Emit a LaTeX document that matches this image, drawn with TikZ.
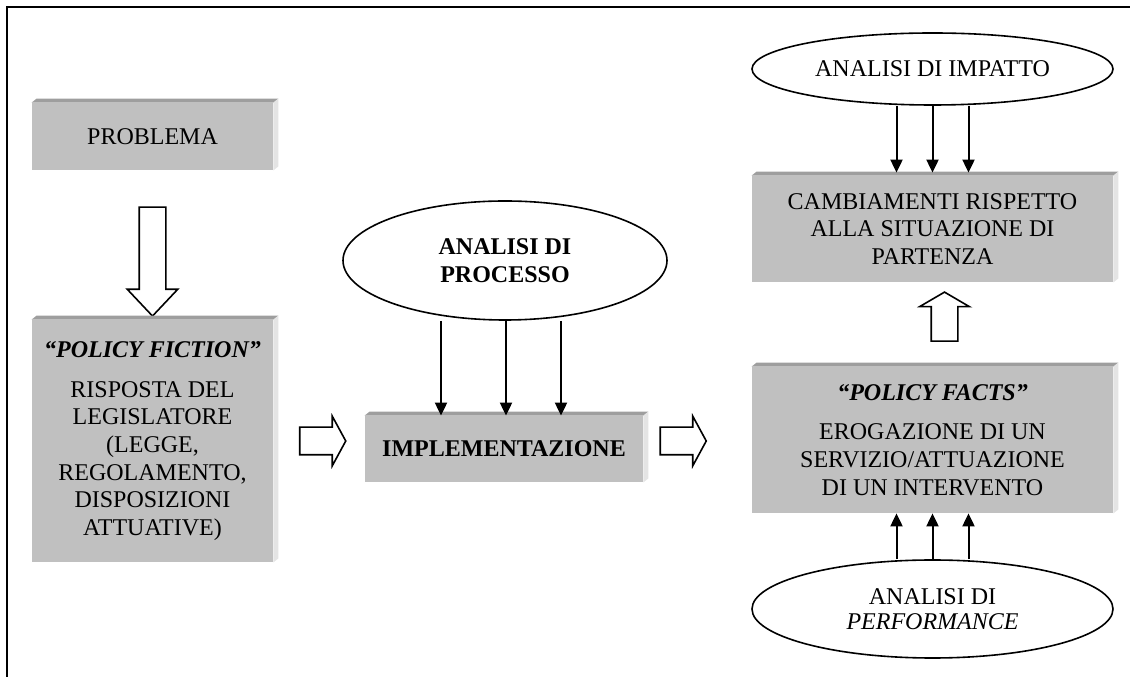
\documentclass[tikz,border=0pt]{standalone}
\usepackage{fontspec}
\setmainfont{Liberation Serif}
\usetikzlibrary{shapes.geometric,shapes.arrows,arrows.meta}
\definecolor{boxgray}{RGB}{192,192,192}
\definecolor{bevtop}{RGB}{158,158,158}
\definecolor{bevside}{RGB}{228,228,228}
\begin{document}
\begin{tikzpicture}[>={Triangle[length=6.5bp,width=6bp]},line join=miter,
  font=\fontsize{12bp}{13.8bp}\selectfont,
  bevelbox/.style={fill=boxgray,inner sep=0pt,align=center},
  oval/.style={draw=black,ellipse,line width=0.8bp,inner sep=0pt,align=center},
  blockarrow/.style={draw=black,fill=white,single arrow,line width=0.8bp,inner xsep=0pt,single arrow head indent=0pt},
  feed/.style={->,line width=1bp},
]
\useasboundingbox (0bp,0bp) rectangle (565bp,338.5bp);
\draw [line width=1bp] (3.5bp,0bp) -- (3.5bp,335bp) -- (565bp,335bp);
%%
\node (problema) at (76.25bp,270.25bp) [bevelbox,minimum width=120.5bp,minimum height=33.5bp] {PROBLEMA};
  \node (fiction) at (76.25bp,118bp) [bevelbox,minimum width=120.5bp,minimum height=121bp] {\textbf{\textit{“POLICY FICTION”}}\\[6bp]RISPOSTA DEL\\LEGISLATORE\\(LEGGE,\\REGOLAMENTO,\\DISPOSIZIONI\\ATTUATIVE)};
  \node (impl) at (252bp,114bp) [bevelbox,minimum width=139bp,minimum height=33bp] {\textbf{IMPLEMENTAZIONE}};
  \node (proc) at (252.5bp,208.25bp) [oval,minimum width=162bp,minimum height=59.5bp] {\textbf{ANALISI DI}\\\textbf{PROCESSO}};
  \node (impatto) at (466.25bp,304bp) [oval,minimum width=180.5bp,minimum height=36bp] {ANALISI DI IMPATTO};
  \node (cambi) at (466.25bp,224bp) [bevelbox,minimum width=180.5bp,minimum height=53bp] {CAMBIAMENTI RISPETTO\\ALLA SITUAZIONE DI\\PARTENZA};
  \node (facts) at (466.25bp,118.5bp) [bevelbox,minimum width=180.5bp,minimum height=73bp] {\textbf{\textit{“POLICY FACTS”}}\\[6bp]EROGAZIONE DI UN\\SERVIZIO/ATTUAZIONE\\DI UN INTERVENTO};
  \node (perf) at (466.25bp,34bp) [oval,minimum width=180.5bp,minimum height=49bp] {ANALISI DI\\[-1.3bp]\textit{PERFORMANCE}};
%
  \node (down1) at (76.25bp,211.25bp) [blockarrow,rotate=-90,minimum height=54.5bp,inner ysep=6.25bp,single arrow head extend=6bp,single arrow tip angle=86.6] {};
  \node (right1) at (159.5bp,118bp) [blockarrow,minimum height=23bp,inner ysep=6.5bp,single arrow head extend=5.5bp,single arrow tip angle=123] {};
  \node (right2) at (339.75bp,118bp) [blockarrow,minimum height=23bp,inner ysep=6.5bp,single arrow head extend=5.5bp,single arrow tip angle=123] {};
  \node (up1) at (472.25bp,178.25bp) [blockarrow,rotate=90,minimum height=24.5bp,inner ysep=6.25bp,single arrow head extend=5.75bp,single arrow tip angle=119.4] {};
%
  \fill [bevtop] (problema.north west) -- ++(2.5bp,2bp) -- ([shift={(2.5bp,2bp)}]problema.north east) -- (problema.north east) -- cycle;
  \fill [bevside] (problema.north east) -- ++(2.5bp,2bp) -- ([shift={(2.5bp,2bp)}]problema.south east) -- (problema.south east) -- cycle;
  \fill [bevtop] (fiction.north west) -- ++(2.5bp,2bp) -- ([shift={(2.5bp,2bp)}]fiction.north east) -- (fiction.north east) -- cycle;
  \fill [bevside] (fiction.north east) -- ++(2.5bp,2bp) -- ([shift={(2.5bp,2bp)}]fiction.south east) -- (fiction.south east) -- cycle;
  \fill [bevtop] (impl.north west) -- ++(2.5bp,2bp) -- ([shift={(2.5bp,2bp)}]impl.north east) -- (impl.north east) -- cycle;
  \fill [bevside] (impl.north east) -- ++(2.5bp,2bp) -- ([shift={(2.5bp,2bp)}]impl.south east) -- (impl.south east) -- cycle;
  \fill [bevtop] (cambi.north west) -- ++(2.5bp,2bp) -- ([shift={(2.5bp,2bp)}]cambi.north east) -- (cambi.north east) -- cycle;
  \fill [bevside] (cambi.north east) -- ++(2.5bp,2bp) -- ([shift={(2.5bp,2bp)}]cambi.south east) -- (cambi.south east) -- cycle;
  \fill [bevtop] (facts.north west) -- ++(2.5bp,2bp) -- ([shift={(2.5bp,2bp)}]facts.north east) -- (facts.north east) -- cycle;
  \fill [bevside] (facts.north east) -- ++(2.5bp,2bp) -- ([shift={(2.5bp,2bp)}]facts.south east) -- (facts.south east) -- cycle;
%
  \draw [feed] ([xshift=-32bp]proc.south) -- ([xshift=-31.5bp]impl.north);
  \draw [feed] ([xshift=0.5bp]proc.south) -- ([xshift=1bp]impl.north);
  \draw [feed] ([xshift=28bp]proc.south) -- ([xshift=28.5bp]impl.north);
  \draw [feed] ([xshift=-18bp]impatto.south) -- ([xshift=-18bp,yshift=1.5bp]cambi.north);
  \draw [feed] (impatto.south) -- ([yshift=1.5bp]cambi.north);
  \draw [feed] ([xshift=18bp]impatto.south) -- ([xshift=18bp,yshift=1.5bp]cambi.north);
  \draw [feed] ([xshift=-18bp]perf.north) -- ([xshift=-18bp]facts.south);
  \draw [feed] (perf.north) -- (facts.south);
  \draw [feed] ([xshift=18bp]perf.north) -- ([xshift=18bp]facts.south);
%
\end{tikzpicture}
\end{document}
